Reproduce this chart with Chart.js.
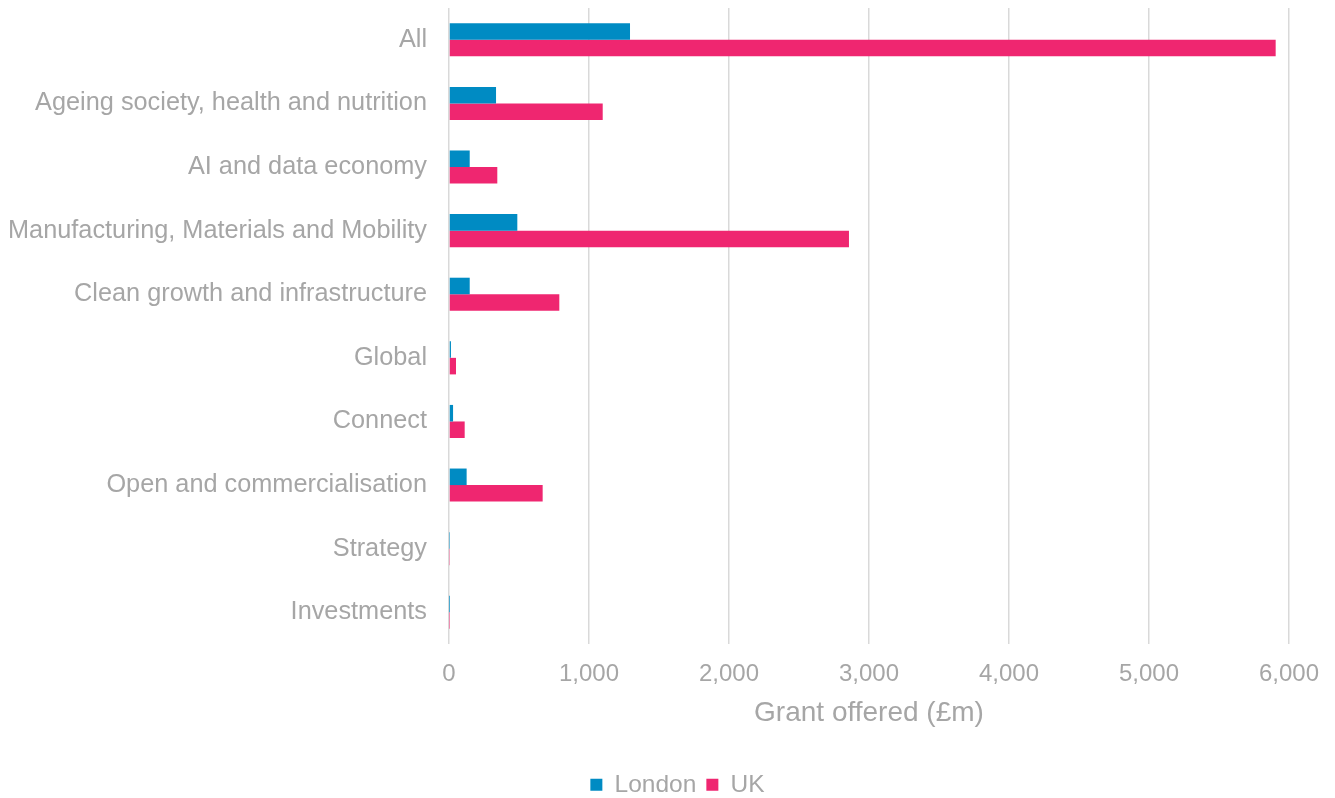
<!DOCTYPE html>
<html>
<head>
<meta charset="utf-8">
<script src="https://cdn.jsdelivr.net/npm/chart.js@4/dist/chart.umd.min.js"></script>
<style>
  html, body { margin: 0; padding: 0; background: #ffffff; overflow: hidden; }
  #wrap { position: relative; width: 1335px; height: 807px; }
</style>
</head>
<body>
<div id="wrap"><canvas id="c"></canvas></div>
<script>
const categories = [
  'All',
  'Ageing society, health and nutrition',
  'AI and data economy',
  'Manufacturing, Materials and Mobility',
  'Clean growth and infrastructure',
  'Global',
  'Connect',
  'Open and commercialisation',
  'Strategy',
  'Investments'
];
const londonValues = [1293, 336, 148, 488, 148, 14, 29, 126, 2, 0.5];
const ukValues = [5905, 1098, 345, 2857, 788, 50, 112, 669, 3, 2];
const seriesNames = ['London', 'UK'];
const axisTitle = 'Grant offered (£m)';
const xMin = 0, xMax = 6000, xStep = 1000;

const textColor = '#a6a6a6';
const fontFamily = "'Liberation Sans', Arial, sans-serif";

Chart.defaults.font.family = fontFamily;
Chart.defaults.color = textColor;

// shifts the legend block horizontally to sit where the reference legend sits
const legendShift = {
  id: 'legendShift',
  afterLayout(chart) {
    if (chart.legend) {
      chart.legend.left += 33;
      chart.legend.right += 33;
    }
  }
};

new Chart(document.getElementById('c'), {
  type: 'bar',
  data: {
    labels: categories,
    datasets: [
      { label: seriesNames[0], data: londonValues, backgroundColor: '#008BC3', borderWidth: 0 },
      { label: seriesNames[1], data: ukValues, backgroundColor: '#EF2670', borderWidth: 0 }
    ]
  },
  plugins: [legendShift],
  options: {
    indexAxis: 'y',
    responsive: true,
    maintainAspectRatio: false,
    devicePixelRatio: 1,
    animation: false,
    layout: { padding: { top: 8, right: 46, left: 0, bottom: 0 } },
    datasets: { bar: { categoryPercentage: 0.52, barPercentage: 1.0 } },
    scales: {
      x: {
        min: xMin, max: xMax,
        ticks: { stepSize: xStep, padding: 16, color: textColor, font: { size: 24 } },
        grid: { color: '#d9d9d9', lineWidth: 1.5, drawTicks: false },
        border: { display: false },
        title: { display: true, text: axisTitle, color: textColor, font: { size: 28 }, padding: { top: -8, bottom: 32 } }
      },
      y: {
        ticks: { padding: 22, color: textColor, font: { size: 25.3 } },
        grid: { display: false, drawTicks: false },
        border: { display: false },
        afterFit: (scale) => {
          scale.width = 449;
          scale.paddingTop = 0;
          scale.paddingBottom = 0;
        }
      }
    },
    plugins: {
      legend: {
        position: 'bottom',
        labels: { boxWidth: 12, boxHeight: 12, padding: 10, color: textColor, font: { size: 24.5 } }
      },
      tooltip: { enabled: false }
    }
  }
});
</script>
</body>
</html>
